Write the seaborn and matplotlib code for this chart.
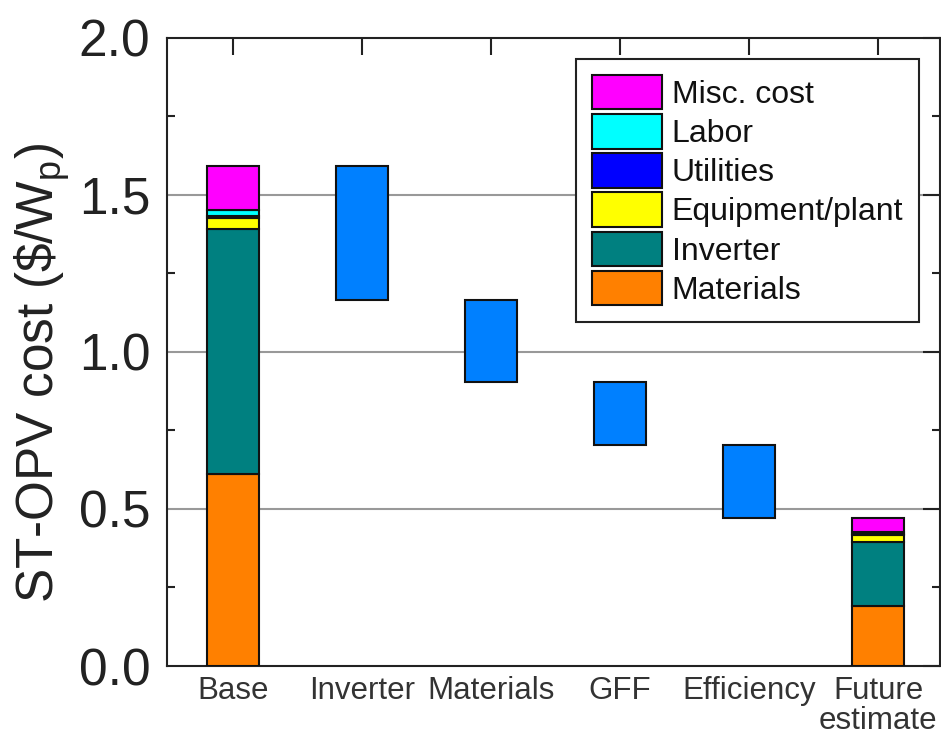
import numpy as np
import pandas as pd
import matplotlib
matplotlib.use("Agg")
import matplotlib.pyplot as plt
from matplotlib.patches import Patch
from matplotlib.ticker import MultipleLocator, FormatStrFormatter
import seaborn as sns

# ---- data ($/Wp) ----
stages = ["Base", "Inverter", "Materials", "GFF", "Efficiency", "Future\nestimate"]
components = ["Materials", "Inverter", "Equipment/plant", "Utilities", "Labor", "Misc. cost"]
base_costs = [0.61, 0.78, 0.035, 0.006, 0.02, 0.14]
future_costs = [0.19, 0.205, 0.022, 0.003, 0.007, 0.044]
# cost reduction from each improvement step (waterfall)
step_names = ["Inverter", "Materials", "GFF", "Efficiency"]
step_reductions = [0.426, 0.261, 0.201, 0.232]

colors = {
    "Materials": "#FF8000",
    "Inverter": "#008080",
    "Equipment/plant": "#FFFF00",
    "Utilities": "#0000FF",
    "Labor": "#00FFFF",
    "Misc. cost": "#FF00FF",
}
step_color = "#0080FF"

sns.set_theme(style="white")
plt.rcParams["font.family"] = ["Liberation Sans", "DejaVu Sans"]
plt.rcParams["mathtext.fontset"] = "custom"
plt.rcParams["mathtext.rm"] = "Liberation Sans"
plt.rcParams["mathtext.it"] = "Liberation Sans"

fig = plt.figure(figsize=(9.41, 7.42), dpi=100)
ax = fig.add_axes([0.1775, 0.1024, 0.8215, 0.847])

# stacked component bars for Base and Future estimate
stack_df = pd.DataFrame({
    "stage": [stages[0]] * len(components) + [stages[-1]] * len(components),
    "component": components * 2,
    "cost": base_costs + future_costs,
})
stack_df["bottom"] = stack_df.groupby("stage")["cost"].cumsum() - stack_df["cost"]

for comp in components:
    sub = stack_df[stack_df["component"] == comp]
    sns.barplot(data=sub, x="stage", y="cost", order=stages, color=colors[comp],
                width=0.4, errorbar=None, bottom=sub["bottom"].values,
                edgecolor="#111111", linewidth=1.5, saturation=1, ax=ax, zorder=3)

# floating waterfall bars for each improvement step
start = float(np.sum(base_costs))
tops = start - np.concatenate([[0], np.cumsum(step_reductions)[:-1]])
step_df = pd.DataFrame({"stage": step_names, "drop": step_reductions,
                        "bottom": tops - np.array(step_reductions)})
sns.barplot(data=step_df, x="stage", y="drop", order=stages, color=step_color,
            width=0.4, errorbar=None, bottom=step_df["bottom"].values,
            edgecolor="#111111", linewidth=1.5, saturation=1, ax=ax, zorder=3)

# horizontal reference lines
for yv in [0.5, 1.0, 1.5]:
    ax.axhline(yv, color="#999999", linewidth=1.5, zorder=0.5)

ax.set_xlim(-0.51, 5.48)
ax.set_ylim(0, 2.0)
ax.yaxis.set_major_locator(MultipleLocator(0.5))
ax.yaxis.set_minor_locator(MultipleLocator(0.25))
ax.yaxis.set_major_formatter(FormatStrFormatter("%.1f"))
ax.set_xticks(range(len(stages)))
ax.set_xticklabels(stages, fontsize=22.5, color="#333333", linespacing=1.0)
ax.tick_params(axis="y", which="major", labelsize=37, labelcolor="#222222", pad=12)
ax.tick_params(axis="both", which="major", direction="in", length=12, width=1.5,
               color="#222222", top=True, right=True)
ax.tick_params(axis="x", which="major", pad=7)
ax.tick_params(axis="y", which="minor", direction="in", length=6, width=1.5,
               color="#222222", left=True, right=True)
for s in ax.spines.values():
    s.set_color("#222222")
    s.set_linewidth(1.5)
    s.set_visible(True)

ax.set_xlabel("")
ax.set_ylabel(r"ST-OPV cost (\$/W$_\mathrm{p}$)", fontsize=37, color="#222222", labelpad=5)
ax.yaxis.label.set_y(0.466)

handles = [Patch(facecolor=colors[c], edgecolor="#111111", linewidth=1.5, label=c)
           for c in components[::-1]]
leg = ax.legend(handles=handles, loc="upper right", bbox_to_anchor=(0.973, 0.966),
                borderaxespad=0, fancybox=False, frameon=True, edgecolor="#222222",
                prop={"family": "Liberation Sans", "size": 23},
                handlelength=2.2, handleheight=1.29, handletextpad=0.31,
                labelspacing=0.13, borderpad=0.5, framealpha=1)
leg.get_frame().set_linewidth(1.5)
leg.set_zorder(5)
for t in leg.get_texts():
    t.set_color("#111111")

fig.savefig("out.png", dpi=100)
